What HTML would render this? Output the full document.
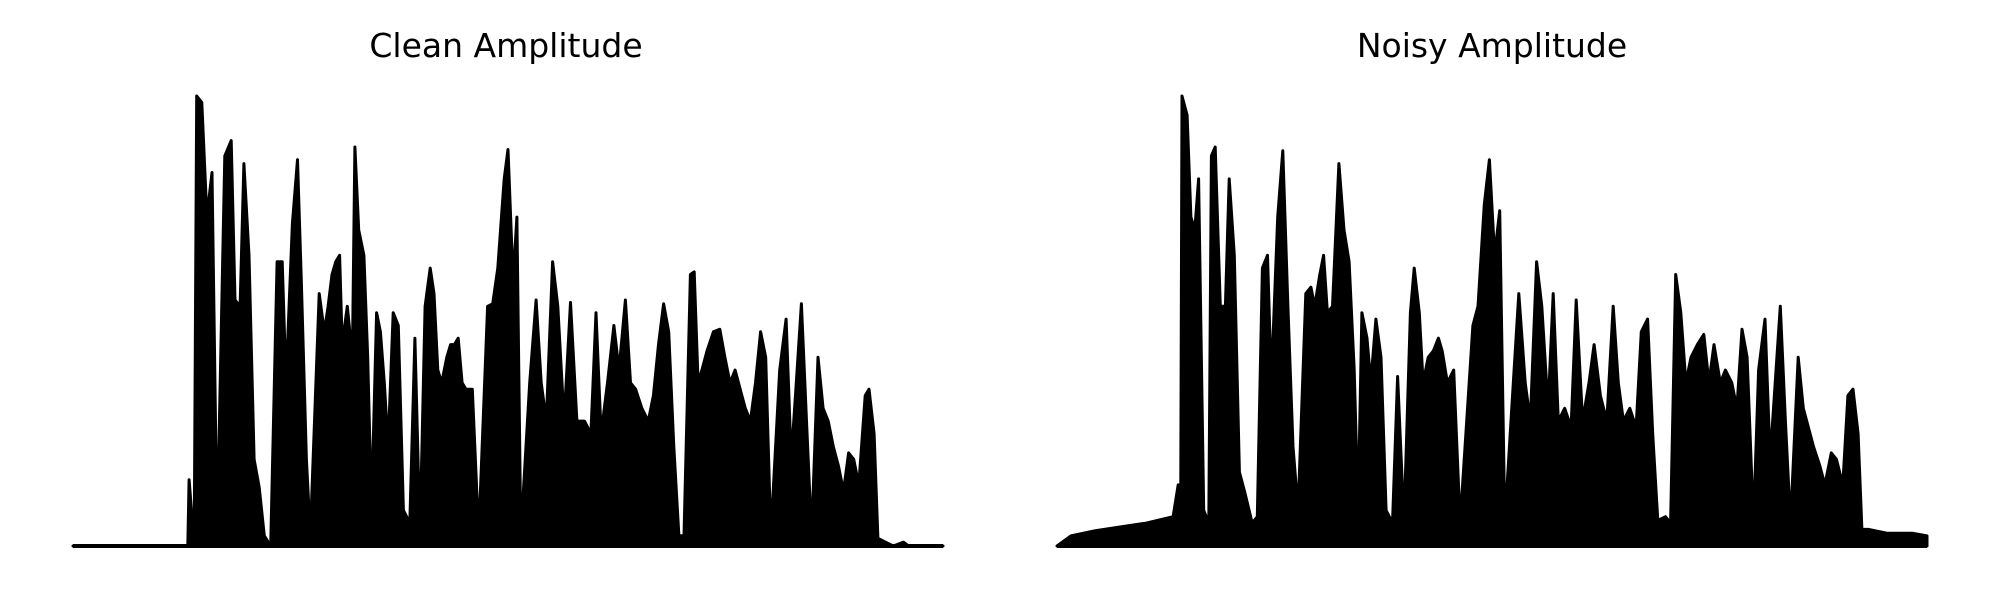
<!DOCTYPE html>
<html><head><meta charset="utf-8"><style>
html,body{margin:0;padding:0;background:#fff;}
svg{display:block;}
</style></head><body>
<svg id="chart" width="2000" height="600" viewBox="0 0 2000 600" xmlns="http://www.w3.org/2000/svg">
<text x="506" y="57" text-anchor="middle" font-family="DejaVu Sans, Liberation Sans, sans-serif" font-size="33" fill="#000">Clean Amplitude</text>
<text x="1492" y="57" text-anchor="middle" font-family="DejaVu Sans, Liberation Sans, sans-serif" font-size="33" fill="#000">Noisy Amplitude</text>
<g id="clean-panel"></g>
<g id="noisy-panel"></g>
</svg>
<script>
const cleanTime = [0,90,91,95,97,101,105,109,113,119,124,127,131,134,138,142,146,150,155,160,164,167,172,176,179,183,186,193,197,200,203,206,209,211,215,219,221,224,228,231,234,238,241,244,247,251,255,259,264,268,272,276,280,283,286,289,293,296,299,302,305,308,313,318,325,329,333,338,341,345,348,351,358,363,367,371,376,380,385,390,395,401,406,410,414,419,424,428,433,437,441,446,451,455,459,463,467,471,475,479,484,487,490,493,497,502,507,511,515,519,523,527,531,535,539,543,547,554,559,563,567,571,575,579,584,588,592,596,600,604,608,612,616,621,624,628,631,643,651,655,682];
const cleanAmp = [0,0,52,0,353,348,258,293,8,306,318,193,188,300,228,68,46,8,0,223,223,128,253,303,208,68,8,198,168,188,213,223,228,158,188,148,313,248,228,148,28,183,168,128,78,183,173,28,18,163,8,188,218,198,138,128,148,158,158,163,128,123,123,8,188,190,218,288,311,208,258,8,128,193,128,98,223,188,98,191,98,98,88,183,88,128,173,138,193,128,123,108,98,118,158,190,168,78,8,8,213,215,128,138,153,168,170,148,128,138,123,108,98,128,168,148,8,138,178,68,128,190,98,8,148,108,98,78,63,43,73,68,48,118,123,88,6,0,3,0,0];
const noisyTime = [0,11,30,50,70,91,95,97,98,102,105,108,111,115,119,121,124,128,132,135,139,143,147,153,157,161,165,168,173,177,181,185,189,195,199,202,206,209,212,216,221,225,229,233,236,239,243,246,250,254,258,263,267,272,277,280,284,287,291,295,299,302,306,311,316,326,330,335,339,343,347,351,358,362,367,371,376,380,385,389,393,398,403,407,412,417,421,426,431,436,440,444,449,454,458,463,467,471,477,481,485,489,493,497,502,507,511,515,520,524,529,533,537,541,546,550,555,559,563,567,571,575,581,585,589,593,598,602,607,611,616,620,624,628,631,636,651,671,682];
const noisyAmp = [0,8,12,15,18,23,48,28,353,338,258,248,288,28,18,306,313,188,188,288,228,58,43,18,23,218,228,128,258,310,188,78,28,198,203,188,213,228,183,188,300,248,223,138,28,183,163,128,178,148,28,18,133,18,183,218,183,128,148,153,163,153,128,138,18,173,188,268,303,228,263,18,133,198,128,98,223,188,108,198,98,108,93,193,98,128,158,118,98,188,128,98,108,93,168,178,88,20,23,18,213,183,128,148,158,166,128,158,128,138,128,108,170,148,18,138,178,68,128,188,98,18,148,108,93,78,63,48,73,68,48,118,123,88,13,13,10,10,8];
const timeMax = 682, ampMax = 353;
const NS = 'http://www.w3.org/2000/svg';
function draw(gid, left, times, amps){
  const g = document.getElementById(gid);
  const width = 870, bottom = 546, top = 96;
  const xs = t => left + t/timeMax*width;
  const ys = a => bottom - a/ampMax*(bottom-top);
  let pts = times.map((t,i)=>xs(t).toFixed(1)+','+ys(amps[i]).toFixed(1));
  const area = document.createElementNS(NS,'polygon');
  
  
  area.setAttribute('points', xs(0)+','+bottom+' '+pts.join(' ')+' '+xs(timeMax)+','+bottom);
  area.setAttribute('fill','#000');
  area.setAttribute('stroke','#000');
  area.setAttribute('stroke-width','3');
  area.setAttribute('stroke-linejoin','round');
  g.appendChild(area);
  const base = document.createElementNS(NS,'line');
  
  
  base.setAttribute('x1',xs(0)); base.setAttribute('x2',xs(timeMax));
  base.setAttribute('y1',bottom); base.setAttribute('y2',bottom);
  base.setAttribute('stroke','#000'); base.setAttribute('stroke-width','4');
  g.appendChild(base);
}
draw('clean-panel', 73, cleanTime, cleanAmp);
draw('noisy-panel', 1057, noisyTime, noisyAmp);
</script>
</body></html>
